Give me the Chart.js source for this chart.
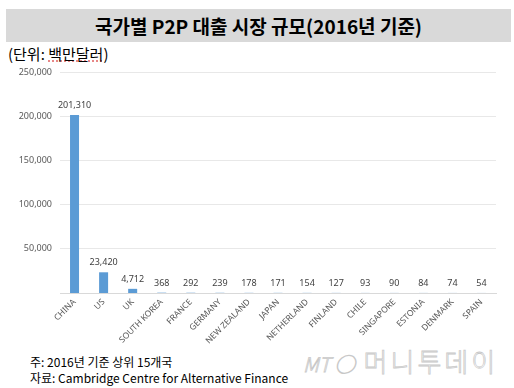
<!DOCTYPE html>
<html>
<head>
<meta charset="utf-8">
<script src="https://cdn.jsdelivr.net/npm/chart.js@4"></script>
<style>
  body { margin: 0; background: #fff; width: 514px; height: 388px; overflow: hidden; position: relative;
         font-family: "Noto Sans CJK KR", "Noto Sans", sans-serif; }
  #band { position: absolute; left: 6px; top: 9px; width: 505px; height: 33px; background: #d9d9d9;
          text-align: center; line-height: 33px; font-size: 19px; font-weight: bold; color: #000; }
  #unit { position: absolute; left: 8px; top: 43px; font-size: 15px; color: #000; }
  #unit span { text-decoration: underline dotted #e06060; }
  #note { position: absolute; left: 30px; top: 354px; font-size: 12px; line-height: 16px; color: #000; }
  #mark { position: absolute; left: 303px; top: 342px; font-size: 26px; color: transparent;
          -webkit-text-stroke: 0.8px #c8c8c8; letter-spacing: 3px; white-space: nowrap; font-weight: 300; }
  #mark i { font-size: 20px; letter-spacing: 0; }
  canvas { position: absolute; left: 0; top: 0; }
</style>
</head>
<body>
<div id="band">국가별 P2P 대출 시장 규모(2016년 기준)</div>
<div id="unit">(단위: <span>백만달러</span>)</div>
<div id="mark"><i>MT ◯</i> 머니투데이</div>
<div id="note">주: 2016년 기준 상위 15개국<br>자료: Cambridge Centre for Alternative Finance</div>
<canvas id="chart" width="514" height="388"></canvas>
<script>
const countries = ['CHINA', 'US', 'UK', 'SOUTH KOREA', 'FRANCE', 'GERMANY', 'NEW ZEALAND', 'JAPAN',
                   'NETHERLAND', 'FINLAND', 'CHILE', 'SINGAPORE', 'ESTONIA', 'DENMARK', 'SPAIN'];
const marketSize = [201310, 23420, 4712, 368, 292, 239, 178, 171, 154, 127, 93, 90, 84, 74, 54];
const yTicks = [50000, 100000, 150000, 200000, 250000];

// value labels on top of bars
const barLabels = {
    id: 'barLabels',
    afterDatasetsDraw(chart) {
        const ctx = chart.ctx;
        const meta = chart.getDatasetMeta(0);
        ctx.save();
        ctx.font = '9px "Noto Sans", sans-serif';
        ctx.fillStyle = '#404040';
        ctx.textAlign = 'center';
        ctx.textBaseline = 'bottom';
        meta.data.forEach((bar, i) => {
            ctx.fillText(marketSize[i].toLocaleString('en-US'), bar.x, bar.y - 5);
        });
        ctx.restore();
    }
};

new Chart(document.getElementById('chart'), {
    type: 'bar',
    data: {
        labels: countries,
        datasets: [{
            data: marketSize,
            backgroundColor: '#5b9bd5',
            barPercentage: 0.62,
            categoryPercentage: 0.5
        }]
    },
    options: {
        responsive: false,
        animation: false,
        layout: { padding: { left: 0, right: 18, top: 72, bottom: 0 } },
        plugins: { legend: { display: false }, tooltip: { enabled: false } },
        scales: {
            x: {
                afterFit: (s) => { s.height = 95; },
                grid: { display: false, drawTicks: false },
                border: { color: '#d9d9d9' },
                ticks: {
                    minRotation: 45, maxRotation: 45, padding: 4, autoSkip: false,
                    color: '#595959', font: { size: 8.5, family: '"Noto Sans", sans-serif' }
                }
            },
            y: {
                min: 0, max: 250000,
                afterFit: (s) => { s.width = 60; },
                afterBuildTicks: (s) => { s.ticks = yTicks.map(v => ({ value: v })); },
                grid: { color: '#e8e8e8', drawTicks: false },
                border: { display: false },
                ticks: {
                    padding: 8, color: '#595959',
                    font: { size: 9, family: '"Noto Sans", sans-serif' },
                    callback: (v) => v.toLocaleString('en-US')
                }
            }
        }
    },
    plugins: [barLabels]
});
</script>
</body>
</html>
